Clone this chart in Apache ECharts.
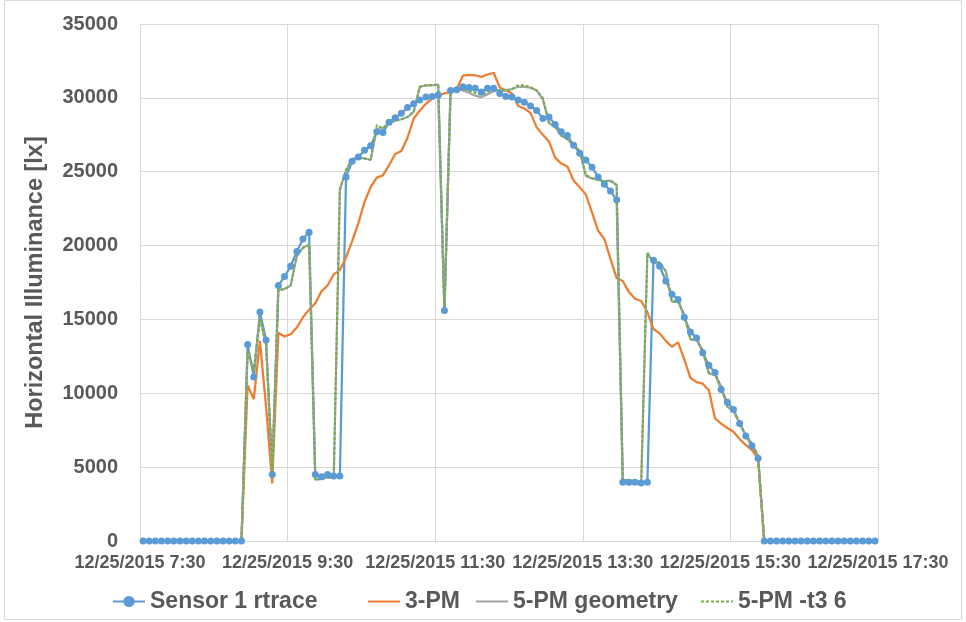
<!DOCTYPE html>
<html>
<head>
<meta charset="utf-8">
<script src="https://cdn.jsdelivr.net/npm/echarts@6/dist/echarts.min.js"></script>
<style>
html,body{margin:0;padding:0;background:#fff;}
#chart{width:966px;height:622px;}
</style>
</head>
<body>
<div id="chart"></div>
<script>
// 5-minute slots from 12/25/2015 7:30 to 17:30 (120 slots)
var xTickLabels = ['12/25/2015 7:30','12/25/2015 9:30','12/25/2015 11:30','12/25/2015 13:30','12/25/2015 15:30','12/25/2015 17:30'];
var seriesNames = ['Sensor 1 rtrace','3-PM','5-PM geometry','5-PM -t3 6'];

var sensor1 = [0,0,0,0,0,0,0,0,0,0,0,0,0,0,0,0,0,
  13300,11100,15500,13600,4500,17300,17900,18600,19600,20450,20900,
  4500,4350,4500,4400,4400,24650,25700,26000,26450,26750,27700,27650,28350,28650,28950,29350,29600,29850,30050,30100,30200,
  15600,30500,30550,30750,30700,30650,30400,30650,30650,30300,30100,30050,29850,29700,29450,29150,28600,28700,28200,27700,27450,26800,26250,25800,25300,24650,24150,23700,23100,
  3970,3980,3970,3920,3970,19000,18600,17600,16700,16350,15150,14150,13750,12750,11900,11400,10250,9400,8900,7950,7100,6450,5600,
  0,0,0,0,0,0,0,0,0,0,0,0,0,0,0,0,0,0,0];

var pm3 = [0,0,0,0,0,0,0,0,0,0,0,0,0,0,0,0,0,
  10550,9600,13550,9100,3900,14100,13850,14000,14450,15150,15650,
  16100,16900,17300,18050,18350,19200,20300,21500,22950,23950,24600,24750,25450,26200,26400,27300,28600,29150,29600,29950,30150,
  30300,30400,30600,31500,31550,31530,31420,31580,31700,30700,30500,30300,29450,29280,28980,28000,27500,27050,25950,25550,25350,24400,23950,23450,22250,21000,20450,19100,17800,
  17600,16850,16400,16250,15500,14350,14050,13550,13150,13450,12300,11050,10750,10650,10200,8300,7950,7650,7400,6900,6500,6150,5600,
  0,0,0,0,0,0,0,0,0,0,0,0,0,0,0,0,0,0,0];

var pm5geometry = [0,0,0,0,0,0,0,0,0,0,0,0,0,0,0,0,0,
  12900,11500,15100,13300,4800,17000,17050,17300,19300,19850,20050,
  4150,4200,4300,4250,23800,25100,25850,25950,25900,25800,27900,27950,28300,28450,28550,28700,29050,30750,30850,30850,30900,
  15600,30550,30600,30500,30350,30150,30050,30250,30450,30500,30500,30600,30750,30750,30700,30500,29900,28300,28050,27450,27200,26800,26400,24700,24550,24450,24350,24400,24100,
  4150,4100,4050,4000,19500,18850,18850,18250,16200,16200,15300,13650,13600,12900,11350,11250,10450,9100,8800,8000,7150,6600,5750,
  0,0,0,0,0,0,0,0,0,0,0,0,0,0,0,0,0,0,0];

var pm5t36 = [0,0,0,0,0,0,0,0,0,0,0,0,0,0,0,0,0,
  12900,11500,15100,13300,4800,17000,17050,17300,19300,19850,20050,
  4150,4200,4300,4250,23800,25100,25850,25950,25900,25800,28150,27950,28300,28450,28550,28700,29050,30750,30850,30850,30900,
  15600,30550,30650,30580,30500,30350,30200,30400,30550,30500,30500,30600,30850,30850,30700,30500,30000,28300,28050,27450,27200,26800,26400,24800,24550,24450,24350,24400,24100,
  4150,4100,4050,4000,19500,18850,18850,18250,16200,16200,15300,13650,13600,12900,11350,11250,10450,9100,8800,8000,7150,6600,5750,
  0,0,0,0,0,0,0,0,0,0,0,0,0,0,0,0,0,0,0];

function toPoints(arr){ return arr.map(function(v,i){ return [i + 0.5, v]; }); }

var textColor = '#595959';
var fontFam = 'Liberation Sans, Arial, sans-serif';
var gridColor = '#d9d9d9';

var chart = echarts.init(document.getElementById('chart'), null, {renderer:'canvas'});
var legendBase = {
  top: 585, itemWidth: 32, itemHeight: 14, itemGap: 5,
  textStyle: {color: textColor, fontSize: 23, fontWeight: 'bold', fontFamily: fontFam}
};
chart.setOption({
  animation: false,
  backgroundColor: '#fff',
  graphic: [{type:'rect', shape:{x:4.5, y:0.5, width:957, height:619}, style:{fill:'none', stroke:gridColor, lineWidth:1}, silent:true}],
  grid: {left: 140, right: 88, top: 24, bottom: 81, containLabel: false},
  legend: [
    Object.assign({}, legendBase, {left: 107, data: [seriesNames[0]]}),
    Object.assign({}, legendBase, {left: 362, data: [seriesNames[1]], itemStyle: {opacity: 0}}),
    Object.assign({}, legendBase, {left: 470, data: [seriesNames[2]], itemStyle: {opacity: 0}}),
    Object.assign({}, legendBase, {left: 695, data: [seriesNames[3]], itemStyle: {opacity: 0}})
  ],
  xAxis: {
    type: 'value', min: 0, max: 120, interval: 24,
    axisLine: {show: true, lineStyle: {color: gridColor, width: 1}},
    axisTick: {show: false},
    splitLine: {show: true, lineStyle: {color: gridColor, width: 1}},
    axisLabel: {
      color: textColor, fontSize: 18, fontWeight: 'bold', fontFamily: fontFam, margin: 13,
      formatter: function(v){ return xTickLabels[Math.round(v/24)] || ''; }
    }
  },
  yAxis: {
    type: 'value', min: 0, max: 35000, interval: 5000,
    name: 'Horizontal Illuminance [lx]', nameLocation: 'middle', nameRotate: 90, nameGap: 92,
    nameTextStyle: {color: textColor, fontSize: 23.5, fontWeight: 'bold', fontFamily: fontFam},
    axisLine: {show: true, lineStyle: {color: gridColor, width: 1}},
    axisTick: {show: false},
    splitLine: {show: true, lineStyle: {color: gridColor, width: 1}},
    axisLabel: {color: textColor, fontSize: 20, fontWeight: 'bold', fontFamily: fontFam, margin: 22,
      formatter: function(v){ return String(v); }}
  },
  series: [
    {name: seriesNames[0], type: 'line', data: toPoints(sensor1), symbol: 'circle', symbolSize: 7, showSymbol: true,
     itemStyle: {color: '#5B9BD5'}, lineStyle: {color: '#5B9BD5', width: 2.25}},
    {name: seriesNames[1], type: 'line', data: toPoints(pm3), symbol: 'none',
     itemStyle: {color: '#ED7D31'}, lineStyle: {color: '#ED7D31', width: 2.25}},
    {name: seriesNames[2], type: 'line', data: toPoints(pm5geometry), symbol: 'none',
     itemStyle: {color: '#A5A5A5'}, lineStyle: {color: '#A5A5A5', width: 2.25}},
    {name: seriesNames[3], type: 'line', data: toPoints(pm5t36), symbol: 'none',
     itemStyle: {color: '#70AD47'}, lineStyle: {color: '#70AD47', width: 2, type: [3, 2]}}
  ]
});
</script>
</body>
</html>
